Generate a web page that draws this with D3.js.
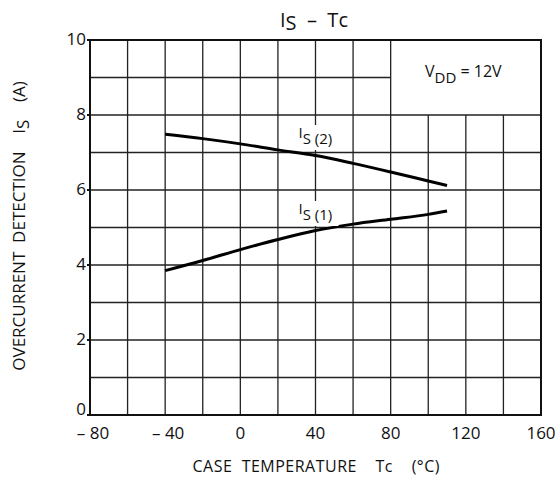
<!DOCTYPE html>
<html>
<head>
<meta charset="utf-8">
<script src="https://cdn.jsdelivr.net/npm/d3@7"></script>
<style>
  body { margin: 0; background: #fff; }
  text { font-family: "Open Sans", sans-serif; fill: #111; }
</style>
</head>
<body>
<div id="chart"></div>
<script>
// temperatures (degC)
var temps = [-40, -20, 0, 20, 40, 60, 80, 100, 110];
// Is(2) and Is(1) in A
var is2 = [7.49, 7.37, 7.23, 7.07, 6.92, 6.71, 6.48, 6.24, 6.12];
var is1 = [3.85, 4.12, 4.41, 4.68, 4.92, 5.09, 5.22, 5.35, 5.44];
var xTicks = [-80, -40, 0, 40, 80, 120, 160];
var xTickText = ["\u2013 80", "\u2013 40", "0", "40", "80", "120", "160"];
var yTicks = [0, 2, 4, 6, 8, 10];

var w = 557, h = 479;
var svg = d3.select("#chart").append("svg")
  .attr("width", w)
  .attr("height", h);

var x = d3.scaleLinear().domain([-80, 160]).range([90, 541]);
var y = d3.scaleLinear().domain([0, 10]).range([415, 40]);

var grid = svg.append("g").attr("stroke", "#222").attr("stroke-width", 1.3);

// vertical grid, the V_DD box (80..160, 8..10) is left empty
d3.range(-60, 160, 20).forEach(function (t) {
  grid.append("line")
    .attr("x1", x(t)).attr("x2", x(t))
    .attr("y1", y(0))
    .attr("y2", t > 80 ? y(8) : y(10));
});
d3.range(1, 10, 1).forEach(function (v) {
  grid.append("line")
    .attr("x1", x(-80))
    .attr("x2", v > 8 ? x(80) : x(160))
    .attr("y1", y(v)).attr("y2", y(v));
});

// frame
svg.append("rect")
  .attr("x", x(-80)).attr("y", y(10))
  .attr("width", x(160) - x(-80))
  .attr("height", y(0) - y(10))
  .attr("fill", "none")
  .attr("stroke", "#111")
  .attr("stroke-width", 2);

// y ticks + labels
yTicks.forEach(function (v) {
  svg.append("line")
    .attr("x1", x(-80) - 3).attr("x2", x(-80))
    .attr("y1", y(v)).attr("y2", y(v))
    .attr("stroke", "#111").attr("stroke-width", 2);
  svg.append("text")
    .attr("x", 86).attr("y", y(v) + (v === 0 ? 0 : 5))
    .attr("text-anchor", "end")
    .attr("font-size", "17px")
    .text(v);
});

xTicks.forEach(function (t, i) {
  svg.append("text")
    .attr("x", x(t) + (t < 0 ? 3 : 0)).attr("y", 439)
    .attr("text-anchor", "middle")
    .attr("font-size", "17px")
    .attr("xml:space", "preserve")
    .text(xTickText[i]);
});

// curves
var line = d3.line()
  .x(function (d) { return x(d[0]); })
  .y(function (d) { return y(d[1]); })
  .curve(d3.curveMonotoneX);

[is2, is1].forEach(function (s) {
  svg.append("path")
    .datum(temps.map(function (t, i) { return [t, s[i]]; }))
    .attr("d", line)
    .attr("fill", "none")
    .attr("stroke", "#000")
    .attr("stroke-width", 3);
});

// curve labels with white backing
function curveLabel(px, py, tag) {
  svg.append("rect")
    .attr("x", px - 2).attr("y", py - 19)
    .attr("width", 42).attr("height", 25)
    .attr("fill", "#fff");
  var t = svg.append("text")
    .attr("x", px).attr("y", py - 6)
    .attr("font-size", "15px");
  t.append("tspan").text("I");
  t.append("tspan").attr("dy", 6).text("S (" + tag + ")");
}
curveLabel(x(40) - 17, 144, "2");
curveLabel(x(40) - 17, 220, "1");

// V_DD note
var vdd = svg.append("text")
  .attr("x", 425).attr("y", 77)
  .attr("font-size", "16px");
vdd.append("tspan").text("V");
vdd.append("tspan").attr("dy", 6).attr("font-size", "15px").text("DD");
vdd.append("tspan").attr("dy", -6).text(" = 12V");

// title
var title = svg.append("text")
  .attr("x", 314).attr("y", 27)
  .attr("text-anchor", "middle")
  .attr("font-size", "20px")
  .attr("xml:space", "preserve");
title.append("tspan").text("I");
title.append("tspan").attr("dy", 3).text("S");
title.append("tspan").attr("dy", -3).text("  \u2013  Tc");

// axis titles
svg.append("text")
  .attr("x", 316).attr("y", 472)
  .attr("text-anchor", "middle")
  .attr("font-size", "16px")
  .attr("xml:space", "preserve")
  .attr("textLength", 247)
  .text("CASE  TEMPERATURE    Tc    (\u00b0C)");

var yl = svg.append("text")
  .attr("transform", "translate(25," + 226 + ") rotate(-90)")
  .attr("text-anchor", "middle")
  .attr("font-size", "17px")
  .attr("xml:space", "preserve");
yl.append("tspan").text("OVERCURRENT  DETECTION    I");
yl.append("tspan").attr("dy", 4).text("S");
yl.append("tspan").attr("dy", -4).text("    (A)");
</script>
</body>
</html>
